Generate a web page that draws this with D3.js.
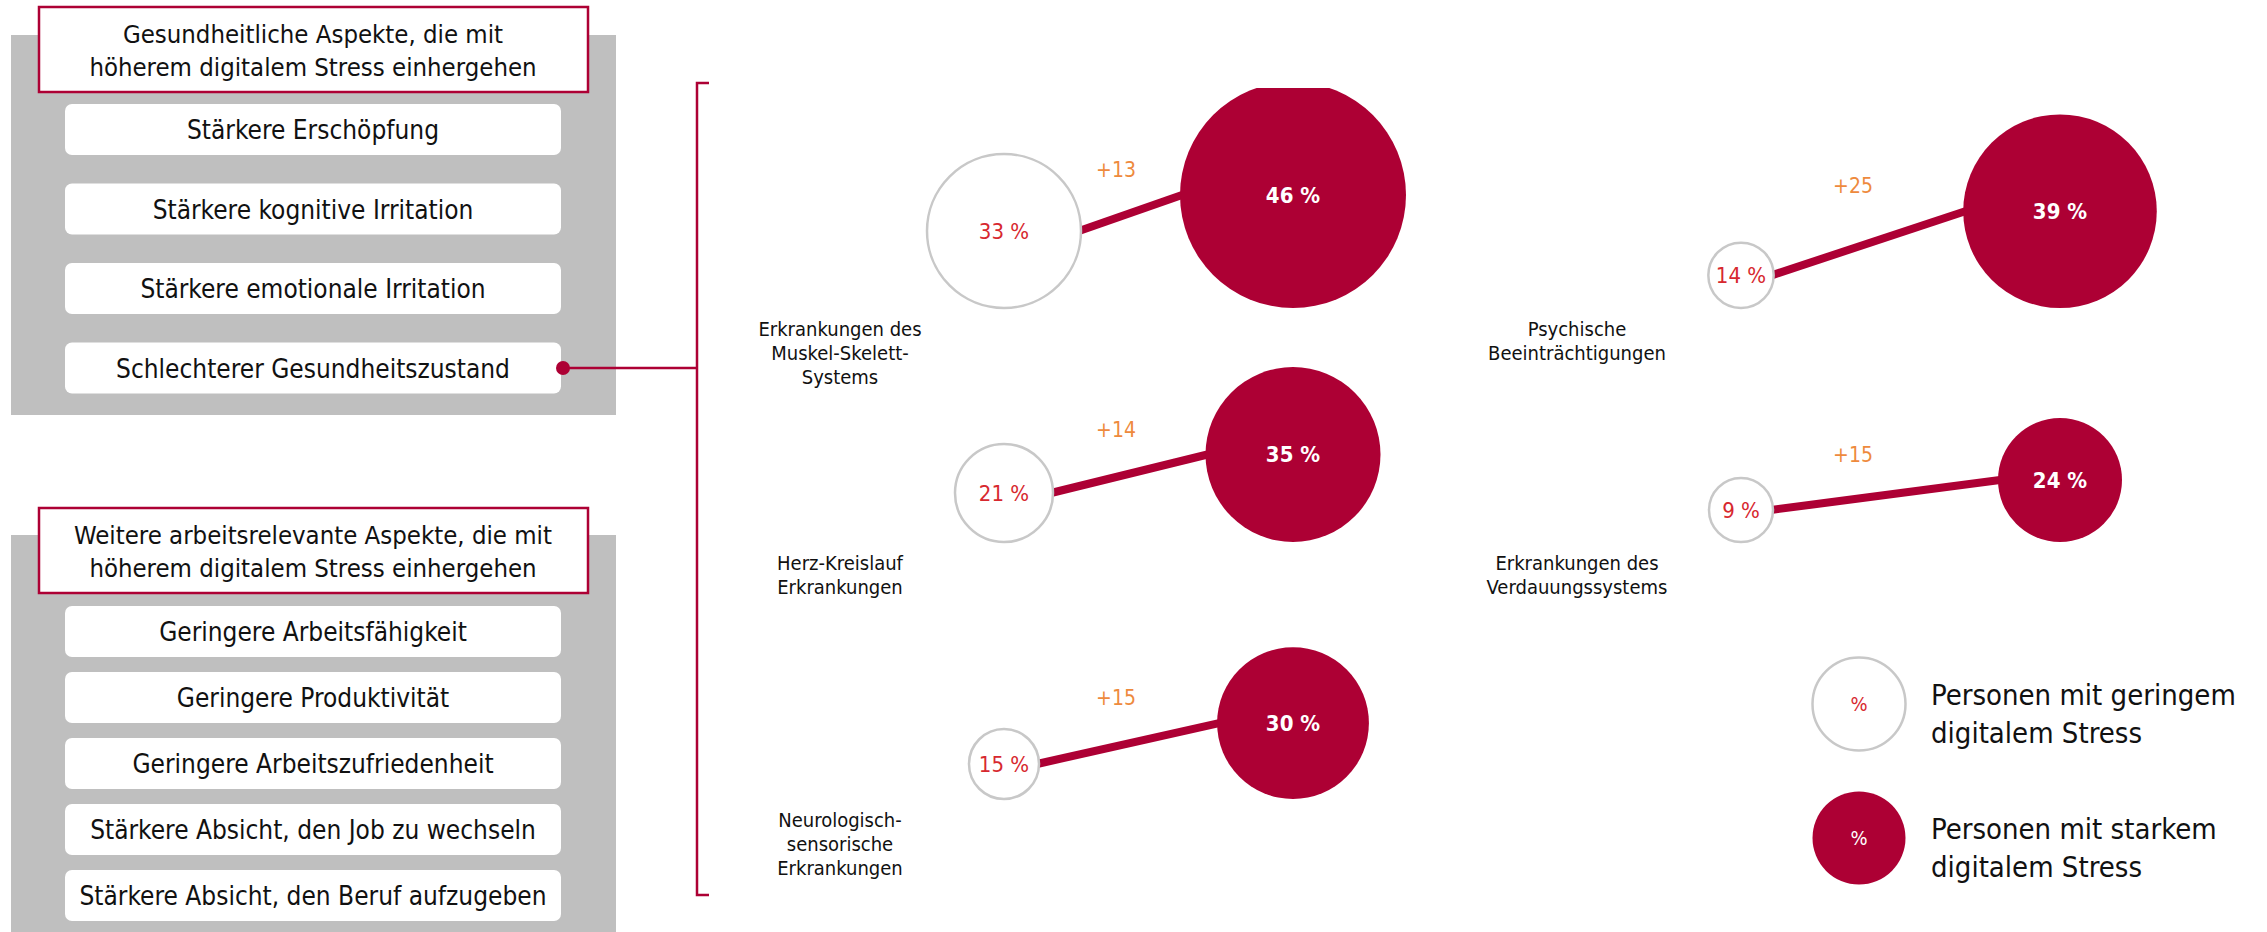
<!DOCTYPE html>
<html>
<head>
<meta charset="utf-8">
<script src="https://cdn.jsdelivr.net/npm/d3@7"></script>
<style>
body{margin:0;background:#fff;}
text{font-family:"DejaVu Sans Condensed","DejaVu Sans",sans-serif;font-stretch:condensed;}
</style>
</head>
<body>
<svg id="chart"></svg>
<script>
// left panel texts
var healthTitle = ["Gesundheitliche Aspekte, die mit", "höherem digitalem Stress einhergehen"]
var healthItems = ["Stärkere Erschöpfung", "Stärkere kognitive Irritation", "Stärkere emotionale Irritation", "Schlechterer Gesundheitszustand"]
var workTitle = ["Weitere arbeitsrelevante Aspekte, die mit", "höherem digitalem Stress einhergehen"]
var workItems = ["Geringere Arbeitsfähigkeit", "Geringere Produktivität", "Geringere Arbeitszufriedenheit", "Stärkere Absicht, den Job zu wechseln", "Stärkere Absicht, den Beruf aufzugeben"]

// the dumbbells
var diseases = [
    ["Erkrankungen des", "Muskel-Skelett-", "Systems"],
    ["Herz-Kreislauf", "Erkrankungen"],
    ["Neurologisch-", "sensorische", "Erkrankungen"],
    ["Psychische", "Beeinträchtigungen"],
    ["Erkrankungen des", "Verdauungssystems"]
]
var lowStress = [33, 21, 15, 14, 9]    // % Personen mit geringem digitalem Stress
var highStress = [46, 35, 30, 39, 24]  // % Personen mit starkem digitalem Stress

var legendLabels = [["Personen mit geringem", "digitalem Stress"], ["Personen mit starkem", "digitalem Stress"]]

var screen = {width:2267, height:932}
var crimson = "#ad0034"
var grey = "#bfbfbf"

var svg = d3.select("#chart")
    .attr("width", screen.width)
    .attr("height", screen.height)

// ---------- left side: two grey panels ----------
var drawPanel = function(title, items, opt)
{
    var g = svg.append("g")

    g.append("rect")
        .attr("x", 11).attr("y", opt.panelTop)
        .attr("width", 605).attr("height", opt.panelBottom - opt.panelTop)
        .attr("fill", grey)

    g.append("rect")
        .attr("x", 39).attr("y", opt.titleTop)
        .attr("width", 549).attr("height", 85)
        .attr("fill", "white")
        .attr("stroke", crimson)
        .attr("stroke-width", 2.5)

    g.selectAll(".title")
        .data(title)
        .enter()
        .append("text")
        .attr("x", 313)
        .attr("y", function(d, i){ return opt.titleTop + 27 + i * 33 })
        .attr("text-anchor", "middle")
        .attr("dominant-baseline", "central")
        .attr("font-size", 25.5)
        .attr("fill", "#111")
        .text(function(d){ return d })

    var yScale = d3.scaleLinear()
        .domain([0, 1])
        .range([opt.itemTop, opt.itemTop + opt.step])

    var boxes = g.selectAll(".item")
        .data(items)
        .enter()
        .append("g")
        .attr("transform", function(d, i){ return "translate(65," + yScale(i) + ")" })

    boxes.append("rect")
        .attr("width", 496)
        .attr("height", 51)
        .attr("rx", 7)
        .attr("fill", "white")

    boxes.append("text")
        .attr("x", 248)
        .attr("y", 26)
        .attr("text-anchor", "middle")
        .attr("dominant-baseline", "central")
        .attr("font-size", 26)
        .attr("fill", "#111")
        .text(function(d){ return d })

    return yScale
}

var healthY = drawPanel(healthTitle, healthItems, {panelTop:35, panelBottom:415, titleTop:7, itemTop:104, step:79.5})
drawPanel(workTitle, workItems, {panelTop:535, panelBottom:932, titleTop:508, itemTop:606, step:66})

// connector from "Schlechterer Gesundheitszustand" to the bracket
var dotY = healthY(healthItems.length - 1) + 25.5
svg.append("line")
    .attr("x1", 563).attr("x2", 697)
    .attr("y1", dotY).attr("y2", dotY)
    .attr("stroke", crimson)
    .attr("stroke-width", 2.5)
svg.append("circle")
    .attr("cx", 563).attr("cy", dotY).attr("r", 7)
    .attr("fill", crimson)
svg.append("path")
    .attr("d", "M709,83H697V895H709")
    .attr("fill", "none")
    .attr("stroke", crimson)
    .attr("stroke-width", 2.5)

// ---------- right side: dumbbells ----------
var data = lowStress.map(function(v, i){
    return {low:v, high:highStress[i], label:diseases[i], col: i < 3 ? 0 : 1, row: i < 3 ? i : i - 3}
})

var baseY = d3.scaleOrdinal().domain([0, 1, 2]).range([308, 542, 799])   // circles sit on a common bottom line
var lowX = d3.scaleOrdinal().domain([0, 1]).range([1004, 1741])
var highX = d3.scaleOrdinal().domain([0, 1]).range([1293, 2060])
var rLow = d3.scaleLinear().domain([0, 33]).range([0, 77])
var rHigh = d3.scaleLinear().domain([24, 46]).range([62, 113])

data.forEach(function(d){
    d.r1 = Math.max(32, rLow(d.low))
    d.r2 = rHigh(d.high)
    d.x1 = lowX(d.col)
    d.x2 = highX(d.col)
    d.y1 = baseY(d.row) - d.r1
    d.y2 = baseY(d.row) - d.r2
})

svg.append("clipPath")
    .attr("id", "clip")
    .append("rect")
    .attr("x", 720).attr("y", 88)
    .attr("width", 1547).attr("height", 844)

var plot = svg.append("g").attr("clip-path", "url(#clip)")

plot.selectAll(".link")
    .data(data)
    .enter()
    .append("line")
    .attr("x1", function(d){ return d.x1 + d.r1 - 2 })
    .attr("y1", function(d){ return d.y1 })
    .attr("x2", function(d){ return d.x2 - d.r2 + 2 })
    .attr("y2", function(d){ return d.y2 })
    .attr("stroke", crimson)
    .attr("stroke-width", 8)

plot.selectAll(".low")
    .data(data)
    .enter()
    .append("circle")
    .attr("cx", function(d){ return d.x1 })
    .attr("cy", function(d){ return d.y1 })
    .attr("r", function(d){ return d.r1 })
    .attr("fill", "white")
    .attr("stroke", "#c8c8c8")
    .attr("stroke-width", 2.5)

plot.selectAll(".high")
    .data(data)
    .enter()
    .append("circle")
    .attr("cx", function(d){ return d.x2 })
    .attr("cy", function(d){ return d.y2 })
    .attr("r", function(d){ return d.r2 })
    .attr("fill", crimson)

svg.selectAll(".lowLabel")
    .data(data)
    .enter()
    .append("text")
    .attr("x", function(d){ return d.x1 })
    .attr("y", function(d){ return d.y1 })
    .attr("text-anchor", "middle")
    .attr("dominant-baseline", "central")
    .attr("font-size", 22)
    .attr("fill", "#d7282f")
    .text(function(d){ return d.low + " %" })

svg.selectAll(".highLabel")
    .data(data)
    .enter()
    .append("text")
    .attr("x", function(d){ return d.x2 })
    .attr("y", function(d){ return d.y2 })
    .attr("text-anchor", "middle")
    .attr("dominant-baseline", "central")
    .attr("font-size", 22)
    .attr("font-weight", "bold")
    .attr("fill", "white")
    .text(function(d){ return d.high + " %" })

svg.selectAll(".delta")
    .data(data)
    .enter()
    .append("text")
    .attr("x", function(d){ return d.x1 + 112 })
    .attr("y", function(d){ return d.y2 - 25 })
    .attr("text-anchor", "middle")
    .attr("dominant-baseline", "central")
    .attr("font-size", 21)
    .attr("fill", "#ee8a3d")
    .text(function(d){ return "+" + (d.high - d.low) })

var labels = svg.selectAll(".disease")
    .data(data)
    .enter()
    .append("text")
    .attr("text-anchor", "middle")
    .attr("font-size", 20)
    .attr("fill", "#111")

labels.selectAll("tspan")
    .data(function(d){ return d.label.map(function(t, i){ return {t:t, i:i, d:d} }) })
    .enter()
    .append("tspan")
    .attr("x", function(o){ return o.d.x1 - 164 })
    .attr("y", function(o){ return baseY(o.d.row) + 21 + o.i * 24 })
    .attr("dominant-baseline", "central")
    .text(function(o){ return o.t })

// ---------- legend ----------
var legend = svg.append("g")
    .attr("id", "legend")
    .attr("transform", "translate(1859,704)")

var gs = legend.selectAll("g")
    .data(legendLabels)
    .enter()
    .append("g")
    .attr("transform", function(d, i){ return "translate(0," + (i * 134) + ")" })

gs.append("circle")
    .attr("r", 46.5)
    .attr("fill", function(d, i){ return i == 0 ? "white" : crimson })
    .attr("stroke", function(d, i){ return i == 0 ? "#c8c8c8" : "none" })
    .attr("stroke-width", 2.5)

gs.append("text")
    .attr("text-anchor", "middle")
    .attr("dominant-baseline", "central")
    .attr("font-size", 20)
    .attr("fill", function(d, i){ return i == 0 ? "#d7282f" : "white" })
    .text("%")

gs.append("text")
    .attr("font-family", "Lato, sans-serif")
    .attr("font-size", 29)
    .attr("fill", "#111")
    .selectAll("tspan")
    .data(function(d){ return d })
    .enter()
    .append("tspan")
    .attr("x", 72)
    .attr("y", function(d, i){ return -9 + i * 38 })
    .attr("dominant-baseline", "central")
    .text(function(d){ return d })
</script>
</body>
</html>
